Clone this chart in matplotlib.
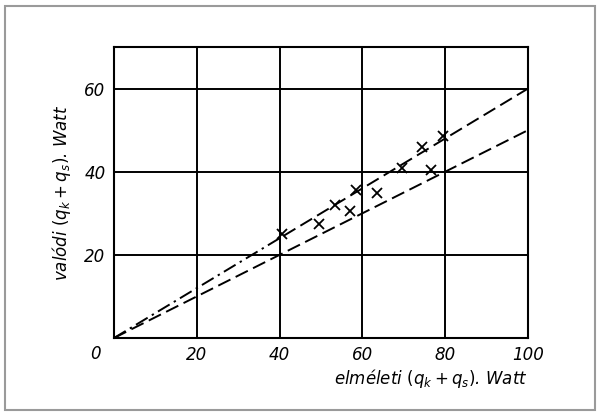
import numpy as np
import matplotlib.pyplot as plt
from matplotlib.patches import Rectangle

# mért pontok (elméleti, valódi)
meas_x = [40.5, 49.5, 53.5, 57.0, 58.5, 63.5, 69.5, 74.5, 76.5, 79.5]
meas_y = [25.0, 27.5, 32.0, 30.5, 35.5, 35.0, 41.0, 46.0, 40.5, 48.5]

# a két egyenes meredeksége
slope_hi = 0.6
slope_lo = 0.5
x_break = 41
x_end = 100

ticks = [0, 20, 40, 60, 80, 100]
yticks = [20, 40, 60]

plt.rcParams['font.family'] = ['DejaVu Sans']
fig = plt.figure(figsize=(6, 4.16), dpi=100, facecolor="white")
fig.patches.append(Rectangle((0.008, 0.015), 0.984, 0.97, transform=fig.transFigure,
                             fill=False, edgecolor="#9a9a9a", linewidth=1.5))
ax = fig.add_axes([0.19, 0.1875, 0.69, 0.6995])

dashed = (0, (7, 3))
# felső egyenes: eleje pont-vonal, utána szaggatott
xs = np.array([0, x_break])
ax.plot(xs, slope_hi * xs, color="black", linestyle=(0, (7, 2.5, 1.2, 2.5)), linewidth=1.4)
xs = np.array([x_break, x_end])
ax.plot(xs, slope_hi * xs, color="black", linestyle=dashed, linewidth=1.4)
# alsó egyenes: szaggatott
xs = np.array([0, x_end])
ax.plot(xs, slope_lo * xs, color="black", linestyle=dashed, linewidth=1.4)

ax.plot(meas_x, meas_y, linestyle="none", marker="x", color="black",
        markersize=7, markeredgewidth=1.3)

ax.set_xlim(0, 100)
ax.set_ylim(0, 70)
ax.set_xticks(ticks)
ax.set_xticklabels([""] + [str(t) for t in ticks[1:]])
ax.set_yticks(yticks)
ax.set_yticklabels([str(t) for t in yticks])
ax.tick_params(length=0, labelsize=12, pad=6)
for lab in ax.get_xticklabels() + ax.get_yticklabels():
    lab.set_style("italic")
ax.text(-0.045, -0.055, "0", transform=ax.transAxes, fontsize=12, style="italic",
        ha="center", va="center")

ax.grid(True, color="black", linewidth=1.4)
for s in ax.spines.values():
    s.set_linewidth(1.5)

ax.set_xlabel(r"elméleti $(q_k + q_s)$. Watt", fontsize=12, style="italic", loc="right", labelpad=2)
ax.set_ylabel(r"valódi $(q_k + q_s)$. Watt", fontsize=12, style="italic", labelpad=8)

fig.savefig("out.png", dpi=100)
